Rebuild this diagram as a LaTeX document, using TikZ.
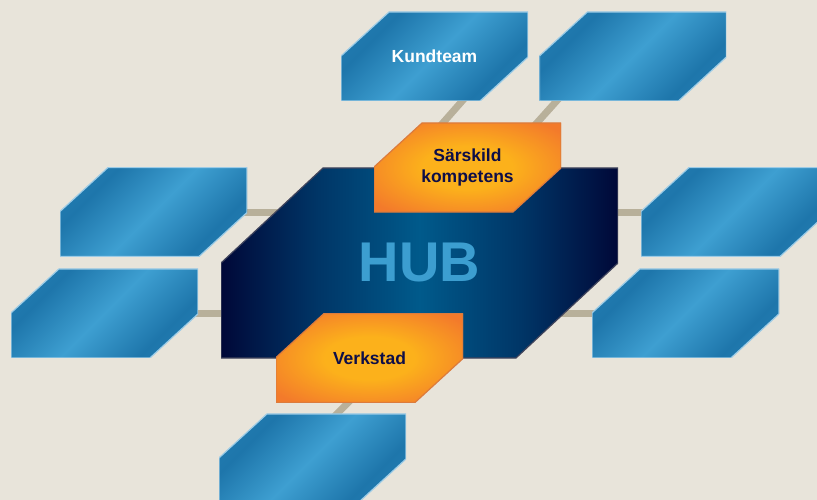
\documentclass[tikz,border=0pt]{standalone}
\usepackage{fontspec}
\setmainfont{Liberation Sans}
\usetikzlibrary{positioning, backgrounds}

\definecolor{paper}{HTML}{E8E4DA}
\definecolor{bluedark}{HTML}{1E76AB}
\definecolor{bluelight}{HTML}{3E9FD1}
\definecolor{bluemid}{HTML}{2A8AC0}
\definecolor{bluerim}{HTML}{9CCBE6}
\definecolor{hubcore}{HTML}{005A8B}
\definecolor{hubmid}{HTML}{003566}
\definecolor{hubedge}{HTML}{000838}
\definecolor{hubtext}{HTML}{3C9ED0}
\definecolor{orangecore}{HTML}{FCB11B}
\definecolor{orangeedge}{HTML}{F37A2B}
\definecolor{labelnavy}{HTML}{0E0E48}
\definecolor{linktan}{HTML}{B8B09A}

\pgfdeclarehorizontalshading{teamsheen}{100bp}{color(0bp)=(bluemid); color(30bp)=(bluedark); color(50bp)=(bluelight); color(70bp)=(bluedark); color(100bp)=(bluemid)}
\pgfdeclarehorizontalshading{hubglow}{100bp}{color(0bp)=(hubedge); color(25bp)=(hubedge); color(37bp)=(hubmid); color(50bp)=(hubcore); color(63bp)=(hubmid); color(75bp)=(hubedge); color(100bp)=(hubedge)}
\pgfdeclareradialshading{skillglow}{\pgfpoint{0bp}{0bp}}{color(0bp)=(orangecore); color(12bp)=(orangecore); color(32bp)=(orangeedge); color(50bp)=(orangeedge)}

% hexagon with the upper left and lower right corners cut off
\newcommand{\cutcorners}[2]{([xshift=#1]path picture bounding box.north west) -- (path picture bounding box.north east) -- ([yshift=#2]path picture bounding box.south east) -- ([xshift=-#1]path picture bounding box.south east) -- (path picture bounding box.south west) -- ([yshift=-#2]path picture bounding box.north west) -- cycle}

\tikzstyle{team_node} = [rectangle, minimum width=187pt, minimum height=89pt, inner sep=0pt, text=white, font=\bfseries\fontsize{17.5}{21}\selectfont, path picture={\shade [shading=teamsheen, shading angle=-45, draw=bluerim, line width=1.2pt] \cutcorners{48pt}{44pt};}]
\tikzstyle{hub_node} = [rectangle, minimum width=397pt, minimum height=190pt, inner sep=0pt, text=hubtext, font=\bfseries\fontsize{56}{60}\selectfont, path picture={\shade [shading=hubglow, draw=gray!50!hubedge, line width=1.2pt] \cutcorners{102pt}{95pt};}]
\tikzstyle{skill_node} = [rectangle, minimum width=187pt, minimum height=89pt, inner sep=0pt, text=labelnavy, align=center, font=\bfseries\fontsize{17.5}{21}\selectfont, path picture={\shade [shading=skillglow, draw=orangeedge!80!gray, line width=1.2pt] \cutcorners{48pt}{44pt};}]
\tikzstyle{link_line} = [line width=7pt, draw=linktan, shorten <=-10pt, shorten >=-10pt]

\begin{document}
\begin{tikzpicture}[x=1pt, y=1pt]
\begin{pgfonlayer}{background}
        \fill [paper] (0,0) rectangle (817,-500);
\end{pgfonlayer}
\useasboundingbox (0,0) rectangle (817,-500);

\node (hub) [hub_node] at (419.5,-263) {HUB};
\node (skill) [skill_node] at (467.5,-167.5) {Särskild\\kompetens};
\node (shop) [skill_node] at (369.5,-358) {Verkstad};

\node (kund) [team_node] at (434.5,-56.5) {Kundteam};
\node (team_b) [team_node, right=11pt of kund] {};
\node (left_a) [team_node] at (153.5,-212) {};
\node (left_b) [team_node, below=12pt of left_a, xshift=-49pt] {};
\node (right_a) [team_node] at (734.5,-212) {};
\node (right_b) [team_node, below=12pt of right_a, xshift=-49pt] {};
\node (base) [team_node, below=11pt of shop, xshift=-57pt] {};

\begin{pgfonlayer}{background}
        \draw [link_line] ([xshift=27.5pt]kund.south) -- ([xshift=-24.5pt]skill.north);
        \draw [link_line] ([xshift=-76.5pt]team_b.south) -- ([xshift=69.5pt]skill.north);
        \draw [link_line] (left_a.east) -- (hub.center |- left_a.east);
        \draw [link_line] (left_b.east) -- (hub.center |- left_b.east);
        \draw [link_line] (hub.center |- right_a.west) -- (right_a.west);
        \draw [link_line] (hub.center |- right_b.west) -- (right_b.west);
        \draw [link_line] ([xshift=-21.5pt]shop.south) -- ([xshift=24.5pt]base.north);
\end{pgfonlayer}
\end{tikzpicture}
\end{document}
